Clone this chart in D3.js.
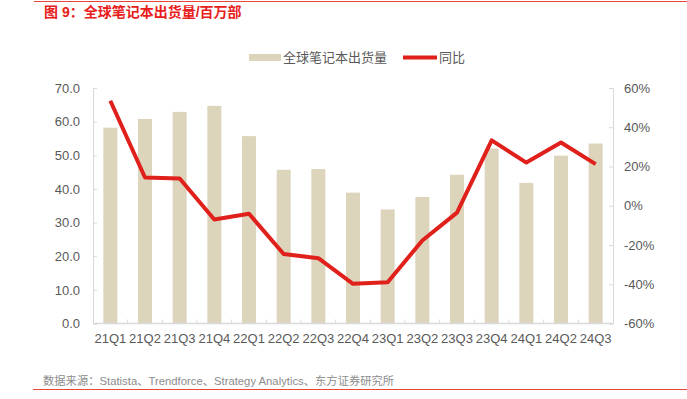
<!DOCTYPE html>
<html>
<head>
<meta charset="utf-8">
<script src="https://cdn.jsdelivr.net/npm/d3@7"></script>
<style>
  body { margin: 0; background: #fff; }
  svg text { font-family: "Liberation Sans", "Noto Sans CJK SC", sans-serif; }
</style>
</head>
<body>
<div id="chart"></div>
<script>
const quarters = ["21Q1","21Q2","21Q3","21Q4","22Q1","22Q2","22Q3","22Q4","23Q1","23Q2","23Q3","23Q4","24Q1","24Q2","24Q3"];
const shipments = [58.2, 60.8, 62.9, 64.7, 55.7, 45.7, 45.9, 38.9, 33.9, 37.6, 44.2, 52.0, 41.8, 49.9, 53.5];
const yoy = [53.5, 14.4, 13.9, -7.0, -4.1, -24.6, -26.7, -39.8, -39.0, -17.7, -3.5, 33.3, 22.0, 32.2, 21.2];
const leftTicks = [0, 10, 20, 30, 40, 50, 60, 70];
const rightTicks = [-60, -40, -20, 0, 20, 40, 60];

const width = 687, height = 399;
const margin = { top: 88, bottom: 75.5, left: 93, right: 74 };
const barColor = "#ddd4bc", lineColor = "#e0201b", textColor = "#595959", axisColor = "#d9d9d9";

const svg = d3.select("#chart").append("svg")
  .attr("width", width)
  .attr("height", height);

// title + red rules
svg.append("line")
  .attr("x1", 34).attr("x2", width).attr("y1", 1.5).attr("y2", 1.5)
  .attr("stroke", "#e8463c").attr("stroke-width", 1.2);
svg.append("text")
  .attr("x", 44).attr("y", 17)
  .attr("fill", "#e8201b")
  .style("font-size", "14px").style("font-weight", "bold")
  .text("图 9：全球笔记本出货量/百万部");

svg.append("line")
  .attr("x1", 33).attr("x2", width).attr("y1", 389.5).attr("y2", 389.5)
  .attr("stroke", "#e8463c").attr("stroke-width", 1.2);
svg.append("text")
  .attr("x", 43).attr("y", 385)
  .attr("fill", "#8c8c8c")
  .style("font-size", "11.3px")
  .text("数据来源：Statista、Trendforce、Strategy Analytics、东方证券研究所");

const band = d3.scaleBand()
  .domain(quarters)
  .range([margin.left, width - margin.right]);

const yL = d3.scaleLinear().domain([0, 70]).range([height - margin.bottom, margin.top]);
const yR = d3.scaleLinear().domain([-60, 60]).range([height - margin.bottom, margin.top]);

// left axis
const gL = svg.append("g")
  .attr("transform", "translate(" + margin.left + ",0)")
  .call(d3.axisLeft(yL).tickValues(leftTicks).tickFormat(d3.format(".1f")).tickSize(-4).tickPadding(13));
gL.select(".domain").attr("stroke", axisColor);
gL.selectAll(".tick line").attr("stroke", axisColor);
gL.selectAll("text").attr("fill", textColor).style("font-size", "13px");

// right axis
const gR = svg.append("g")
  .attr("transform", "translate(" + (width - margin.right) + ",0)")
  .call(d3.axisRight(yR).tickValues(rightTicks).tickFormat(d => d + "%").tickSize(-4).tickPadding(11));
gR.select(".domain").attr("stroke", axisColor);
gR.selectAll(".tick line").attr("stroke", axisColor);
gR.selectAll("text").attr("fill", textColor).style("font-size", "13px");

// bars
svg.selectAll("rect.bar")
  .data(quarters)
  .enter()
  .append("rect")
    .attr("class", "bar")
    .attr("x", d => band(d) + band.bandwidth() / 2 - 7)
    .attr("width", 14)
    .attr("y", (d, i) => yL(shipments[i]))
    .attr("height", (d, i) => yL(0) - yL(shipments[i]))
    .attr("fill", barColor);

// bottom axis
const gB = svg.append("g")
  .attr("transform", "translate(0," + yL(0) + ")");
gB.append("line")
  .attr("x1", margin.left).attr("x2", width - margin.right)
  .attr("stroke", axisColor).attr("stroke-width", 1.5);
gB.selectAll("line.tk")
  .data(quarters.slice(1))
  .enter()
  .append("line")
    .attr("class", "tk")
    .attr("x1", d => band(d)).attr("x2", d => band(d))
    .attr("y1", 0).attr("y2", -4)
    .attr("stroke", axisColor);
gB.selectAll("text")
  .data(quarters)
  .enter()
  .append("text")
    .attr("x", d => band(d) + band.bandwidth() / 2)
    .attr("y", 19)
    .attr("text-anchor", "middle")
    .attr("fill", textColor)
    .style("font-size", "13px")
    .text(d => d);

// line
const line = d3.line()
  .x((d, i) => band(quarters[i]) + band.bandwidth() / 2)
  .y(d => yR(d));
svg.append("path")
  .datum(yoy)
  .attr("d", line)
  .attr("fill", "none")
  .attr("stroke", lineColor)
  .attr("stroke-width", 4)
  .attr("stroke-linejoin", "round");

// legend
const lg = svg.append("g");
lg.append("rect")
  .attr("x", 249).attr("y", 54).attr("width", 32).attr("height", 7)
  .attr("fill", barColor);
lg.append("text")
  .attr("x", 283).attr("y", 62)
  .attr("fill", textColor).style("font-size", "13px")
  .text("全球笔记本出货量");
lg.append("line")
  .attr("x1", 403).attr("x2", 437).attr("y1", 57.5).attr("y2", 57.5)
  .attr("stroke", lineColor).attr("stroke-width", 4);
lg.append("text")
  .attr("x", 439).attr("y", 62)
  .attr("fill", textColor).style("font-size", "13px")
  .text("同比");
</script>
</body>
</html>
